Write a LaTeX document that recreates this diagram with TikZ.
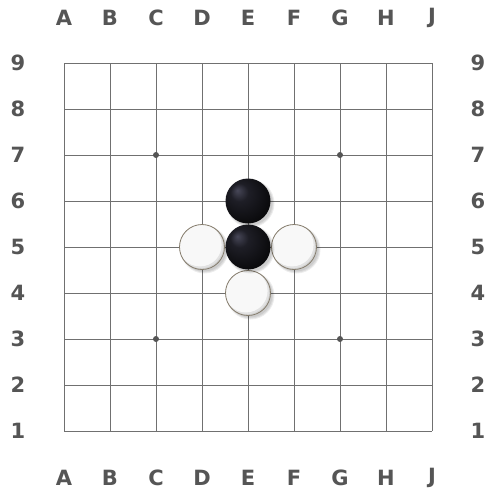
\documentclass[tikz,border=0pt]{standalone}
\usepackage{fontspec}
\setmainfont{DejaVu Sans}
\definecolor{lbl}{HTML}{555555}
\definecolor{gridc}{HTML}{707070}
\definecolor{bhl}{HTML}{474758}
\definecolor{bmid}{HTML}{1E1E26}
\definecolor{bout}{HTML}{0A0A0C}
\definecolor{wface}{HTML}{F8F8F8}
\definecolor{wside}{HTML}{D0D0D0}
\definecolor{wrim}{HTML}{857C6C}
\pgfdeclareradialshading{bstoneshade}{\pgfpoint{-12bp}{12bp}}{color(0bp)=(bhl); color(10bp)=(bmid); color(30bp)=(bout); color(50bp)=(black)}
\tikzset{
  gridline/.style={draw=gridc, line width=1pt},
  lab/.style={font=\bfseries\fontsize{21}{21}\selectfont, text=lbl, inner sep=0pt, anchor=center},
  starpt/.style={fill=lbl},
  stoneshadow/.style={fill=black, opacity=0.07},
  bstone/.pic={
    \fill[stoneshadow] (2.5,2.5) circle (24);
    \fill[stoneshadow] (2.5,2.5) circle (23);
    \fill[stoneshadow] (2,2) circle (22.5);
    \shade[shading=bstoneshade] (0,0) circle (22.5);
  },
  wstone/.pic={
    \fill[stoneshadow] (2.5,2.5) circle (24);
    \fill[stoneshadow] (2.5,2.5) circle (23);
    \fill[stoneshadow] (2,2) circle (22.5);
    \fill[wside] (0,0) circle (22.5);
    \begin{scope}
      \clip (0,0) circle (22.5);
      \fill[wside!55!wface] (-1,-1) circle (22.2);
      \fill[wface] (-2,-2.2) circle (21.6);
    \end{scope}
    \draw[wrim, line width=0.8pt] (0,0) circle (22.5);
  }
}
\begin{document}
\begin{tikzpicture}[x=1pt,y=-1pt]
\useasboundingbox (0,0) rectangle (498,496);
\fill[white] (0,0) rectangle (498,496);
\foreach \i in {0,...,8} {
  \draw[gridline] (64+46*\i,63) -- (64+46*\i,431);
  \draw[gridline] (64,63+46*\i) -- (432,63+46*\i);
}
\foreach \l [count=\i from 0] in {A,B,C,D,E,F,G,H,J} {
  \node[lab] (top\l) at (64+46*\i,18) {\l};
  \node[lab] (bot\l) at (64+46*\i,478) {\l};
}
\foreach \n in {1,...,9} {
  \node[lab] (left\n) at (18,431-46*\n+46) {\n};
  \node[lab] (right\n) at (478,431-46*\n+46) {\n};
}
\fill[starpt] (156,155) circle (3);
\fill[starpt] (340,155) circle (3);
\fill[starpt] (156,339) circle (3);
\fill[starpt] (340,339) circle (3);
\pic (bE6) at (248,201) {bstone};
\pic (wD5) at (202,247) {wstone};
\pic (wF5) at (294,247) {wstone};
\pic (wE4) at (248,293) {wstone};
\pic (bE5) at (248,247) {bstone};
\end{tikzpicture}
\end{document}
